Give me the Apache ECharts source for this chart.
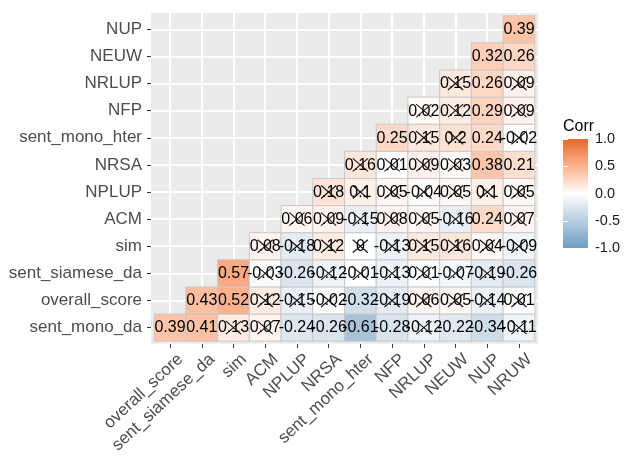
<!DOCTYPE html>
<html><head><meta charset="utf-8">
<script src="https://cdn.jsdelivr.net/npm/echarts@6/dist/echarts.min.js"></script>
<style>html,body{margin:0;padding:0;background:#fff}#c{width:624px;height:456px}</style>
</head><body><div id="c"></div>
<script>
// ---------- data ----------
const xCategories = ['overall_score','sent_siamese_da','sim','ACM','NPLUP','NRSA','sent_mono_hter','NFP','NRLUP','NEUW','NUP','NRUW'];
const yCategories = ['sent_mono_da','overall_score','sent_siamese_da','sim','ACM','NPLUP','NRSA','sent_mono_hter','NFP','NRLUP','NEUW','NUP'];
// corrRows[r] : correlations of yCategories[r] with xCategories[r..11]
const rowSentMonoDa     = [0.39, 0.41, 0.13, 0.07, -0.24, -0.26, -0.61, -0.28, -0.12, -0.22, -0.34, -0.11];
const rowOverallScore   = [0.43, 0.52, 0.12, -0.15, -0.02, -0.32, -0.19, 0.06, 0.05, -0.14, 0.01];
const rowSentSiameseDa  = [0.57, -0.03, -0.26, -0.12, -0.01, -0.13, 0.01, -0.07, -0.19, -0.26];
const rowSim            = [0.08, -0.18, 0.12, 0, -0.13, 0.15, 0.16, 0.04, -0.09];
const rowACM            = [0.06, 0.09, -0.15, 0.08, 0.05, -0.16, 0.24, 0.07];
const rowNPLUP          = [0.18, 0.1, 0.05, -0.04, 0.05, 0.1, 0.05];
const rowNRSA           = [0.16, 0.01, 0.09, 0.03, 0.38, 0.21];
const rowSentMonoHter   = [0.25, 0.15, 0.2, 0.24, -0.02];
const rowNFP            = [0.02, 0.12, 0.29, 0.09];
const rowNRLUP          = [0.15, 0.26, 0.09];
const rowNEUW           = [0.32, 0.26];
const rowNUP            = [0.39];
const corrRows = [rowSentMonoDa,rowOverallScore,rowSentSiameseDa,rowSim,rowACM,rowNPLUP,rowNRSA,rowSentMonoHter,rowNFP,rowNRLUP,rowNEUW,rowNUP];
// 1 = not significant (crossed)
const insigRows = [
  [0,0,1,1,0,0,0,0,1,0,0,1],
  [0,0,1,1,1,0,1,1,1,1,1],
  [0,1,0,1,1,1,1,1,1,0],
  [1,1,1,1,1,1,1,1,1],
  [1,1,1,1,1,1,0,1],
  [1,1,1,1,1,1,1],
  [1,1,1,1,0,0],
  [0,1,1,0,1],
  [1,1,0,1],
  [1,0,1],
  [0,0],
  [0]
];
const legendBreaks = [-1, -0.5, 0, 0.5, 1];
const legendTitle = 'Corr';

// ---------- colour scale (Lab interpolation like ggplot) ----------
function srgbToLinear(c){c/=255;return c<=0.04045?c/12.92:Math.pow((c+0.055)/1.055,2.4);}
function linearToSrgb(c){c=c<=0.0031308?12.92*c:1.055*Math.pow(c,1/2.4)-0.055;return Math.round(Math.max(0,Math.min(1,c))*255);}
function toLab(hex){
  const r=srgbToLinear(parseInt(hex.slice(1,3),16)),g=srgbToLinear(parseInt(hex.slice(3,5),16)),b=srgbToLinear(parseInt(hex.slice(5,7),16));
  const X=(0.4124564*r+0.3575761*g+0.1804375*b)/0.95047;
  const Y=(0.2126729*r+0.7151522*g+0.0721750*b);
  const Z=(0.0193339*r+0.1191920*g+0.9503041*b)/1.08883;
  const f=t=>t>0.008856?Math.cbrt(t):(7.787*t+16/116);
  const fx=f(X),fy=f(Y),fz=f(Z);
  return [116*fy-16,500*(fx-fy),200*(fy-fz)];
}
function fromLab(L,a,b){
  const fy=(L+16)/116,fx=fy+a/500,fz=fy-b/200;
  const fi=t=>t*t*t>0.008856?t*t*t:(t-16/116)/7.787;
  const X=fi(fx)*0.95047,Y=fi(fy),Z=fi(fz)*1.08883;
  const r=3.2404542*X-1.5371385*Y-0.4985314*Z;
  const g=-0.9692660*X+1.8760108*Y+0.0415560*Z;
  const bb=0.0556434*X-0.2040259*Y+1.0572252*Z;
  return 'rgb('+[r,g,bb].map(linearToSrgb).join(',')+')';
}
const LOW=toLab('#6D9EC1'),MID=toLab('#FFFFFF'),HIGH=toLab('#E46726');
function fillFor(v){
  const t=Math.max(-1,Math.min(1,v));
  const end=t>=0?HIGH:LOW,k=Math.abs(t);
  return fromLab(MID[0]+(end[0]-MID[0])*k,MID[1]+(end[1]-MID[1])*k,MID[2]+(end[2]-MID[2])*k);
}

// ---------- build data ----------
const cells=[];
corrRows.forEach((row,r)=>row.forEach((v,k)=>cells.push([r+k+1,r+1,v,insigRows[r][k]])));
const crossed=cells.filter(c=>c[3]===1);

const FONT='Liberation Sans, Arial, Helvetica, sans-serif';
const LABEL_SHIFT=0.33;
const ticks=xCategories.map((_,i)=>i+1);
const yTicks=yCategories.map((_,i)=>i+1);

const gradStops=[];
for(let i=0;i<=40;i++){const v=1-i/20;gradStops.push({offset:i/40,color:fillFor(v)});}

const chart=echarts.init(document.getElementById('c'),null,{renderer:'canvas'});
chart.setOption({
  animation:false,
  backgroundColor:'#ffffff',
  grid:[
    {left:151,top:13,width:387,height:338.5,show:true,backgroundColor:'#EBEBEB',borderWidth:0,containLabel:false},
    {left:563,top:139,width:25,height:109,show:false,containLabel:false}
  ],
  xAxis:[
    {type:'value',gridIndex:0,min:0.4,max:12.6,
      axisLine:{show:false},
      axisTick:{show:true,customValues:ticks,length:4,lineStyle:{color:'#333333',width:1}},
      splitLine:{show:true,lineStyle:{color:'#FFFFFF',width:2}},
      minorSplitLine:{show:false},
      axisLabel:{show:true,customValues:ticks.map(t=>t+LABEL_SHIFT),rotate:43,margin:13,fontSize:17,color:'#4D4D4D',fontFamily:FONT,
        formatter:v=>xCategories[Math.round(v-LABEL_SHIFT)-1]}},
    {type:'value',gridIndex:1,min:0,max:1,show:false}
  ],
  yAxis:[
    {type:'value',gridIndex:0,min:0.4,max:12.6,
      axisLine:{show:false},
      axisTick:{show:true,customValues:yTicks,length:4,lineStyle:{color:'#333333',width:1}},
      splitLine:{show:true,lineStyle:{color:'#FFFFFF',width:2}},
      axisLabel:{show:true,customValues:yTicks,margin:9,fontSize:17,color:'#4D4D4D',fontFamily:FONT,
        formatter:v=>yCategories[Math.round(v)-1]}},
    {type:'value',gridIndex:1,min:-1,max:1,interval:0.5,position:'right',z:5,
      axisLine:{show:false},splitLine:{show:false},
      axisTick:{show:true,inside:true,length:5,lineStyle:{color:'#FFFFFF',width:1}},
      axisLabel:{show:true,margin:7,fontSize:14.5,color:'#1a1a1a',fontFamily:FONT,formatter:v=>v.toFixed(1)}},
    {type:'value',gridIndex:1,min:-1,max:1,interval:0.5,position:'left',z:5,
      axisLine:{show:false},splitLine:{show:false},axisLabel:{show:false},
      axisTick:{show:true,inside:true,length:5,lineStyle:{color:'#FFFFFF',width:1}}}
  ],
  graphic:[
    {type:'text',x:563,y:127,style:{text:legendTitle,fontSize:16,fontFamily:FONT,fill:'#000',verticalAlign:'middle',textVerticalAlign:'middle'}}
  ],
  series:[
    {type:'custom',name:'tiles',xAxisIndex:0,yAxisIndex:0,silent:true,encode:{x:0,y:1},data:cells,
      renderItem:(params,api)=>{
        const c=api.coord([api.value(0),api.value(1)]);const s=api.size([1,1]);
        return {type:'rect',shape:{x:c[0]-s[0]/2,y:c[1]-s[1]/2,width:s[0],height:s[1]},
          style:{fill:fillFor(api.value(2)),stroke:'#C8C8C8',lineWidth:1}};
      }},
    {type:'custom',name:'labels',xAxisIndex:0,yAxisIndex:0,silent:true,encode:{x:0,y:1},data:cells,
      renderItem:(params,api)=>{
        const c=api.coord([api.value(0),api.value(1)]);
        return {type:'text',x:c[0],y:c[1]+0.5,style:{text:String(api.value(2)),align:'center',textAlign:'center',verticalAlign:'middle',textVerticalAlign:'middle',
          fontSize:16,fontFamily:FONT,fill:'#000'}};
      }},
    {type:'custom',name:'crosses',xAxisIndex:0,yAxisIndex:0,silent:true,encode:{x:0,y:1},data:crossed,
      renderItem:(params,api)=>{
        const c=api.coord([api.value(0),api.value(1)]);const s=api.size([1,1]);
        const hw=s[0]*0.24,hh=s[1]*0.24;
        return {type:'group',children:[
          {type:'line',shape:{x1:c[0]-hw,y1:c[1]-hh,x2:c[0]+hw,y2:c[1]+hh},style:{stroke:'#111111',lineWidth:1.1}},
          {type:'line',shape:{x1:c[0]-hw,y1:c[1]+hh,x2:c[0]+hw,y2:c[1]-hh},style:{stroke:'#111111',lineWidth:1.1}}
        ]};
      }},
    {type:'custom',name:'colorbar',xAxisIndex:1,yAxisIndex:1,silent:true,encode:{x:0,y:1},
      data:[[0,legendBreaks[legendBreaks.length-1],1,legendBreaks[0]]],
      renderItem:(params,api)=>{
        const p1=api.coord([api.value(0),api.value(1)]);const p2=api.coord([api.value(2),api.value(3)]);
        return {type:'rect',shape:{x:p1[0],y:p1[1],width:p2[0]-p1[0],height:p2[1]-p1[1]},
          style:{fill:new echarts.graphic.LinearGradient(0,0,0,1,gradStops)}};
      }}
  ]
});
</script></body></html>
